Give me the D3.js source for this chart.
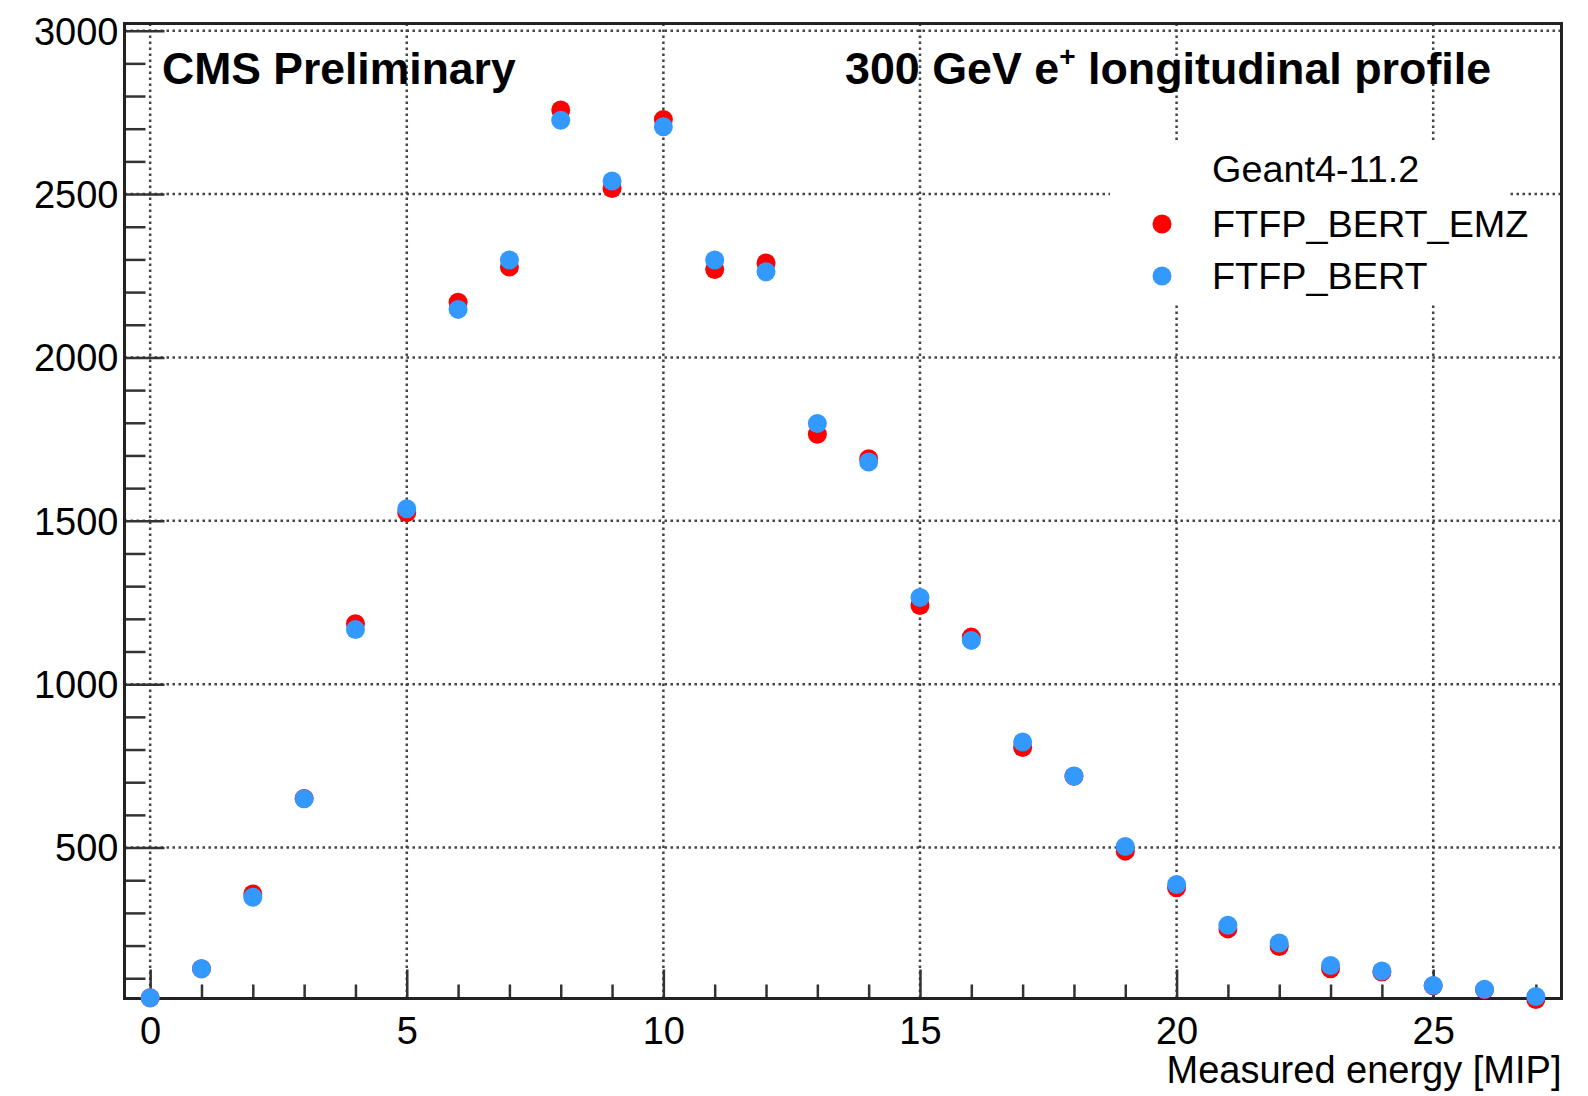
<!DOCTYPE html>
<html>
<head>
<meta charset="utf-8">
<script src="https://cdn.jsdelivr.net/npm/d3@7"></script>
<style>
  body { margin: 0; background: #fff; }
  text { font-family: "Liberation Sans", Arial, Helvetica, sans-serif; fill: #000; }
</style>
</head>
<body>
<div id="chart"></div>
<script>
// bin centres (measured energy in MIP)
var bins = [0, 1, 2, 3, 4, 5, 6, 7, 8, 9, 10, 11, 12, 13, 14, 15, 16, 17, 18, 19, 20, 21, 22, 23, 24, 25, 26, 27];
// FTFP_BERT_EMZ
var emzValues = [40, 129, 358, 650, 1185, 1525, 2169, 2277, 2757, 2517, 2728, 2269, 2289, 1765, 1690, 1241, 1144, 806, 718, 489, 377, 251, 197, 129, 119, 77, 65, 35];
// FTFP_BERT
var bertValues = [40, 129, 348, 649, 1167, 1537, 2147, 2298, 2726, 2540, 2706, 2298, 2262, 1798, 1680, 1265, 1134, 823, 719, 503, 387, 262, 208, 139, 122, 78, 66, 44];
var xMajor = [0, 5, 10, 15, 20, 25];
var yMajor = [500, 1000, 1500, 2000, 2500, 3000];
var legendHeader = "Geant4-11.2";
var seriesNames = ["FTFP_BERT_EMZ", "FTFP_BERT"];
var seriesColors = ["#ff0000", "#3399ff"];

var W = 1588, H = 1096;
var frame = {left: 124.5, right: 1561.5, top: 23.5, bottom: 998.5};

var svg = d3.select("#chart")
    .append("svg")
    .attr("width", W)
    .attr("height", H);

svg.append("rect").attr("width", W).attr("height", H).attr("fill", "#fff");

var x = d3.scaleLinear().domain([-0.5, 27.5]).range([frame.left, frame.right]);
var y = d3.scaleLinear().domain([38, 3022]).range([frame.bottom, frame.top]);

var xMinor = d3.range(0, 28).filter(function(v) { return xMajor.indexOf(v) < 0; });
var yMinor = d3.range(100, 3001, 100).filter(function(v) { return yMajor.indexOf(v) < 0; });

//grid
var gGrid = svg.append("g");
gGrid.selectAll("line.gx")
    .data(xMajor)
    .enter()
    .append("line")
    .attr("x1", function(d) { return x(d); })
    .attr("x2", function(d) { return x(d); })
    .attr("y1", frame.top)
    .attr("y2", frame.bottom);
gGrid.selectAll("line.gy")
    .data(yMajor)
    .enter()
    .append("line")
    .attr("x1", frame.left)
    .attr("x2", frame.right)
    .attr("y1", function(d) { return y(d); })
    .attr("y2", function(d) { return y(d); });
gGrid.selectAll("line")
    .attr("stroke", "#444")
    .attr("stroke-width", 2.5)
    .attr("stroke-dasharray", "2.5,3.5");

//legend box (white, hides grid behind it)
svg.append("rect")
    .attr("x", 1110)
    .attr("y", 140)
    .attr("width", 400)
    .attr("height", 164)
    .attr("fill", "#fff");

//axes
function styleAxis(g) {
    g.select(".domain").remove();
    g.selectAll(".tick line").attr("stroke", "#333").attr("stroke-width", 2.5);
    g.selectAll(".tick text").attr("font-size", 38).attr("font-family", "Liberation Sans, Arial, sans-serif").attr("fill", "#000");
}

var gx = svg.append("g").attr("transform", "translate(0," + frame.bottom + ")");
gx.append("g").call(d3.axisTop(x).tickValues(xMinor).tickSize(14).tickFormat(""));
gx.append("g").call(d3.axisTop(x).tickValues(xMajor).tickSize(29).tickFormat(d3.format("d")));
gx.call(styleAxis);
gx.selectAll(".tick text").attr("y", 45).attr("dy", 0);

var gy = svg.append("g").attr("transform", "translate(" + frame.left + ",0)");
gy.append("g").call(d3.axisRight(y).tickValues(yMinor).tickSize(21).tickFormat(""));
gy.append("g").call(d3.axisRight(y).tickValues(yMajor).tickSize(40).tickFormat(d3.format("d")));
gy.call(styleAxis);
gy.selectAll(".tick text").attr("x", -6).attr("text-anchor", "end").attr("dy", "0.35em");

//frame
svg.append("rect")
    .attr("x", frame.left)
    .attr("y", frame.top)
    .attr("width", frame.right - frame.left)
    .attr("height", frame.bottom - frame.top)
    .attr("fill", "none")
    .attr("stroke", "#222")
    .attr("stroke-width", 3);

//points
var series = [emzValues, bertValues];
var gPoint = svg.append("g");
series.forEach(function(vals, k) {
    gPoint.append("g")
        .selectAll("circle")
        .data(bins)
        .enter()
        .append("circle")
        .attr("cx", function(d) { return x(d); })
        .attr("cy", function(d, i) { return y(vals[i]); })
        .attr("r", 9.5)
        .attr("fill", seriesColors[k]);
});

//texts
svg.append("text")
    .attr("x", 162)
    .attr("y", 84)
    .attr("font-size", 44.5)
    .attr("font-weight", "bold")
    .text("CMS Preliminary");

var title = svg.append("text")
    .attr("x", 845)
    .attr("y", 84)
    .attr("font-size", 44.8)
    .attr("font-weight", "bold");
title.append("tspan").text("300 GeV e");
title.append("tspan").attr("font-size", 28).attr("dy", -18).text("+");
title.append("tspan").attr("dy", 18).text(" longitudinal profile");

svg.append("text")
    .attr("x", frame.right)
    .attr("y", 1083)
    .attr("text-anchor", "end")
    .attr("font-size", 38)
    .text("Measured energy [MIP]");

//legend
var gLegend = svg.append("g");
gLegend.append("text")
    .attr("x", 1212)
    .attr("y", 182)
    .attr("font-size", 37.8)
    .text(legendHeader);
var rowY = [237, 289];
seriesNames.forEach(function(name, k) {
    gLegend.append("circle")
        .attr("cx", 1162)
        .attr("cy", rowY[k] - 13)
        .attr("r", 9.5)
        .attr("fill", seriesColors[k]);
    gLegend.append("text")
        .attr("x", 1212)
        .attr("y", rowY[k])
        .attr("font-size", 37.8)
        .text(name);
});
</script>
</body>
</html>
